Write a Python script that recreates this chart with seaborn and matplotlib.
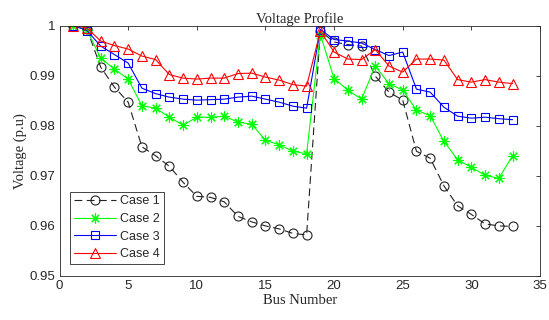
import numpy as np
import pandas as pd
import seaborn as sns
import matplotlib
matplotlib.use("Agg")
import matplotlib.pyplot as plt

bus = list(range(1, 34))
case1 = [1.0, 0.9993, 0.9917, 0.9877, 0.9847, 0.9758, 0.9740, 0.9719, 0.9687, 0.9659,
         0.9657, 0.9648, 0.9619, 0.9608, 0.9600, 0.9594, 0.9585, 0.9582,
         0.9989, 0.9967, 0.9962, 0.9959, 0.9899, 0.9867, 0.9851, 0.9749, 0.9735,
         0.9680, 0.9640, 0.9623, 0.9604, 0.9600, 0.9599]
case2 = [1.0, 0.9991, 0.9935, 0.9913, 0.9893, 0.9840, 0.9835, 0.9817, 0.9801, 0.9817,
         0.9817, 0.9819, 0.9807, 0.9803, 0.9771, 0.9762, 0.9749, 0.9744,
         0.9982, 0.9894, 0.9871, 0.9853, 0.9919, 0.9884, 0.9871, 0.9831, 0.9820,
         0.9769, 0.9732, 0.9717, 0.9701, 0.9695, 0.9740]
case3 = [1.0, 0.9990, 0.9959, 0.9942, 0.9925, 0.9875, 0.9864, 0.9857, 0.9853, 0.9851,
         0.9852, 0.9853, 0.9857, 0.9859, 0.9853, 0.9847, 0.9839, 0.9835,
         0.9992, 0.9972, 0.9969, 0.9965, 0.9952, 0.9940, 0.9947, 0.9873, 0.9867,
         0.9837, 0.9819, 0.9815, 0.9817, 0.9814, 0.9812]
case4 = [1.0, 0.9995, 0.9969, 0.9960, 0.9953, 0.9939, 0.9932, 0.9902, 0.9895, 0.9893,
         0.9895, 0.9895, 0.9904, 0.9905, 0.9897, 0.9891, 0.9882, 0.9879,
         0.9989, 0.9947, 0.9933, 0.9932, 0.9952, 0.9919, 0.9907, 0.9933, 0.9933,
         0.9931, 0.9892, 0.9887, 0.9892, 0.9887, 0.9884]
labels = ["Case 1", "Case 2", "Case 3", "Case 4"]
xticks = [0, 5, 10, 15, 20, 25, 30, 35]
yticks = [0.95, 0.96, 0.97, 0.98, 0.99, 1.0]
ytick_labels = ["0.95", "0.96", "0.97", "0.98", "0.99", "1"]

sns.set_style("white")
plt.rcParams['font.family'] = ['Liberation Sans', 'DejaVu Sans']

fig = plt.figure(figsize=(5.49, 3.20), dpi=100)
W, H = 549, 320
ax = fig.add_axes([59.5 / W, (H - 276) / H, (540 - 59.5) / W, (276 - 25.5) / H])

styles = [
    dict(color="#222222", linestyle=(0, (7, 4)), marker="o", ms=6.5),
    dict(color="#00ff00", linestyle="-", marker=(8, 2, 0), ms=7.5),
    dict(color="#0000ff", linestyle="-", marker="s", ms=6),
    dict(color="#ff0000", linestyle="-", marker="^", ms=7.5),
]
for vals, lab, st in zip([case1, case2, case3, case4], labels, styles):
    sns.lineplot(x=bus, y=vals, ax=ax, label=lab, color=st["color"],
                 linestyle=st["linestyle"], marker=st["marker"], markersize=st["ms"],
                 markerfacecolor="none", markeredgecolor=st["color"],
                 markeredgewidth=0.8, linewidth=0.8)

ax.set_xlim(0, 35)
ax.set_ylim(0.95, 1.0)
ax.set_xticks(xticks)
ax.set_yticks(yticks)
ax.set_yticklabels(ytick_labels)
ax.tick_params(direction="in", length=3, width=0.6, labelsize=9.5, colors="#262626",
               top=True, right=True, labeltop=False, labelright=False, pad=3)
for s in ax.spines.values():
    s.set_visible(True)
    s.set_color("#262626")
    s.set_linewidth(0.6)

ax.set_title("Voltage Profile", family="Liberation Serif", fontsize=10.5, pad=2, color="#262626")
ax.set_xlabel("Bus Number", family="Liberation Serif", fontsize=10.5, labelpad=1, color="#262626")
ax.set_ylabel("Voltage (p.u)", family="Liberation Serif", fontsize=10.5, labelpad=2, color="#262626")

leg = ax.legend(loc="lower left", bbox_to_anchor=(0.022, 0.048), borderaxespad=0,
                fontsize=9, handlelength=3.4, numpoints=1, fancybox=False,
                frameon=True, borderpad=0.3, labelspacing=0.45, handletextpad=0.3)
leg.get_frame().set_edgecolor("#262626")
leg.get_frame().set_linewidth(0.6)
leg.get_frame().set_alpha(1)

fig.savefig("out.png", dpi=100)
